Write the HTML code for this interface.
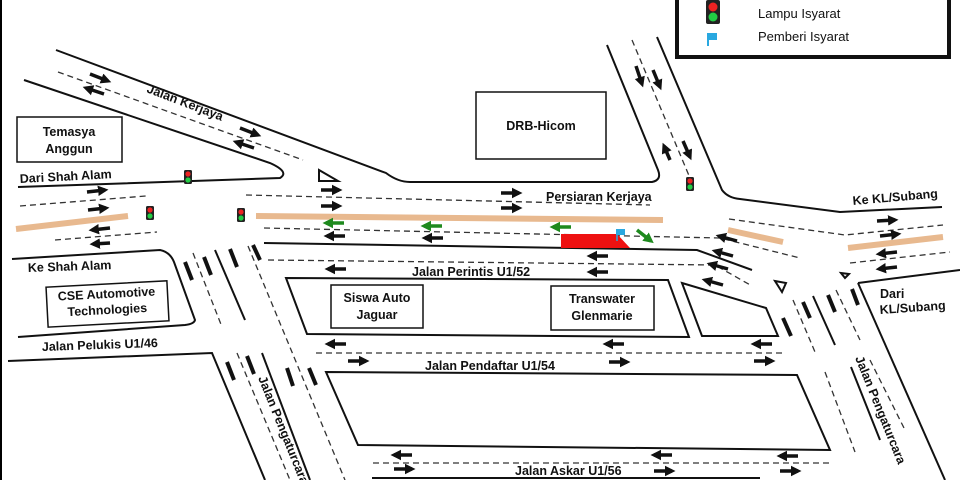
<!DOCTYPE html>
<html><head><meta charset="utf-8"><style>
html,body{margin:0;padding:0;background:#fff;}
svg{display:block;}
text{font-family:"Liberation Sans",sans-serif;font-weight:bold;font-size:12.5px;fill:#111;}
</style></head><body>
<svg width="960" height="480" viewBox="0 0 960 480" xmlns="http://www.w3.org/2000/svg">
<defs>
<marker id="ah" markerWidth="4" markerHeight="4" refX="2" refY="2" orient="auto" markerUnits="strokeWidth"><path d="M0,0.5 L3,2 L0,3.5Z" fill="#111"/></marker>
<marker id="gh" markerWidth="4" markerHeight="4" refX="2" refY="2" orient="auto" markerUnits="strokeWidth"><path d="M0,0.5 L3,2 L0,3.5Z" fill="#1e8a1e"/></marker>
</defs>
<rect x="0" y="0" width="2" height="480" fill="#000"/>
<g fill="none" stroke="#111" stroke-width="2">
<!-- Kerjaya upper + top road -->
<path d="M56,50 L386,173 Q398,182 410,182 L652,182 Q662,180 658,170 L607,45"/>
<path d="M657,37 L722,190 Q728,198 740,199 L840,212 L942,207"/>
<path d="M24,80 L270,163 Q290,172 280,178 L18,187"/>
<path d="M264,243 L697,250 L752,270"/>
<path d="M12,259 L160,250 Q170,252 174,262 L195,320 Q194,324 185,325 L18,337"/>
<path d="M8,361 L212,353 L265,480"/>
<path d="M215,250 L245,320"/>
<path d="M286,278 L668,280 L689,337 L307,334 Z"/>
<path d="M682,283 L766,308 L778,336 L702,336 Z"/>
<path d="M326,372 L797,375 L830,450 L358,445 Z"/>
<path d="M372,478 L760,478"/>
<path d="M858,283 L960,270"/>
<path d="M858,283 L945,480"/>
<path d="M813,296 L835,345"/>
<path d="M851,367 L880,440"/>
<path d="M262,353 L310,480"/>
</g>
<g fill="none" stroke="#333" stroke-width="1.3" stroke-dasharray="6,4">
<path d="M58,72 L303,160"/>
<path d="M632,40 L690,178"/>
<path d="M20,206 L146,196"/>
<path d="M55,240 L157,232"/>
<path d="M246,195 L650,205"/>
<path d="M264,228 L720,238 L800,258"/>
<path d="M268,260 L715,265 L752,286"/>
<path d="M729,219 L845,235 L943,225"/>
<path d="M850,263 L950,252"/>
<path d="M193,253 L222,327"/>
<path d="M248,246 L345,480"/>
<path d="M237,353 L290,480"/>
<path d="M316,353 L786,353"/>
<path d="M373,463 L830,463"/>
<path d="M793,300 L815,352"/>
<path d="M836,290 L860,340"/>
<path d="M825,372 L855,452"/>
<path d="M870,360 L905,430"/>
</g>
<!-- tan bars -->
<g stroke="#e8b98f" stroke-width="6">
<line x1="16" y1="229" x2="128" y2="216"/>
<line x1="256" y1="216" x2="663" y2="220"/>
<line x1="728" y1="230" x2="783" y2="242"/>
<line x1="848" y1="248" x2="943" y2="237"/>
</g>
<!-- red shape -->
<path d="M561,234 L617,234 L630,248 L561,248Z" fill="#ee1111"/>
<!-- flag -->
<rect x="616" y="229" width="9" height="6" fill="#29a8e0"/><line x1="617" y1="229" x2="617" y2="241" stroke="#29a8e0" stroke-width="1.5"/>
<!-- arrows -->
<g stroke="#111" stroke-width="3.5" marker-end="url(#ah)">
<line x1="90" y1="74" x2="108" y2="81"/>
<line x1="104" y1="94" x2="86" y2="88"/>
<line x1="240" y1="128" x2="258" y2="135"/>
<line x1="254" y1="148" x2="236" y2="142"/>
<line x1="87" y1="192" x2="105" y2="190"/>
<line x1="88" y1="210" x2="106" y2="208"/>
<line x1="110" y1="228" x2="92" y2="230"/>
<line x1="110" y1="243" x2="93" y2="244"/>
<line x1="321" y1="190" x2="339" y2="190"/>
<line x1="321" y1="206" x2="339" y2="206"/>
<line x1="345" y1="236" x2="327" y2="236"/>
<line x1="443" y1="238" x2="425" y2="238"/>
<line x1="501" y1="193" x2="519" y2="193"/>
<line x1="501" y1="208" x2="519" y2="208"/>
<line x1="608" y1="256" x2="590" y2="256"/>
<line x1="608" y1="272" x2="590" y2="272"/>
<line x1="346" y1="269" x2="328" y2="269"/>
<line x1="346" y1="344" x2="328" y2="344"/>
<line x1="348" y1="361" x2="366" y2="361"/>
<line x1="624" y1="344" x2="606" y2="344"/>
<line x1="609" y1="362" x2="627" y2="362"/>
<line x1="772" y1="344" x2="754" y2="344"/>
<line x1="754" y1="361" x2="772" y2="361"/>
<line x1="412" y1="455" x2="394" y2="455"/>
<line x1="394" y1="469" x2="412" y2="469"/>
<line x1="672" y1="455" x2="654" y2="455"/>
<line x1="654" y1="471" x2="672" y2="471"/>
<line x1="798" y1="456" x2="780" y2="456"/>
<line x1="780" y1="471" x2="798" y2="471"/>
<line x1="877" y1="221" x2="895" y2="220"/>
<line x1="880" y1="236" x2="898" y2="234"/>
<line x1="897" y1="252" x2="879" y2="254"/>
<line x1="897" y1="267" x2="879" y2="269"/>
<line x1="737" y1="241" x2="719" y2="236"/>
<line x1="733" y1="256" x2="715" y2="251"/>
<line x1="728" y1="269" x2="710" y2="264"/>
<line x1="723" y1="285" x2="705" y2="280"/>
<line x1="636" y1="66" x2="642" y2="84"/>
<line x1="653" y1="70" x2="660" y2="87"/>
<line x1="670" y1="160" x2="664" y2="146"/>
<line x1="683" y1="141" x2="690" y2="157"/>
</g>
<g stroke="#1e8a1e" stroke-width="3.5" marker-end="url(#gh)">
<line x1="344" y1="223" x2="326" y2="223"/>
<line x1="442" y1="226" x2="424" y2="226"/>
<line x1="571" y1="227" x2="553" y2="227"/>
<line x1="637" y1="230" x2="651" y2="241"/>
</g>
<!-- bars -->
<g stroke="#111" stroke-width="4">
<line x1="185" y1="262" x2="192" y2="280"/>
<line x1="204" y1="257" x2="211" y2="275"/>
<line x1="230" y1="249" x2="237" y2="267"/>
<line x1="253" y1="245" x2="260" y2="260"/>
<line x1="227" y1="362" x2="234" y2="380"/>
<line x1="247" y1="356" x2="254" y2="374"/>
<line x1="287" y1="368" x2="293" y2="386"/>
<line x1="309" y1="368" x2="316" y2="385"/>
<line x1="783" y1="318" x2="791" y2="336"/>
<line x1="803" y1="302" x2="810" y2="318"/>
<line x1="828" y1="295" x2="835" y2="312"/>
<line x1="852" y1="289" x2="858" y2="305"/>
</g>
<!-- triangles -->
<path d="M319,170 L338,181 L319,181Z" fill="#fff" stroke="#111" stroke-width="2"/>
<path d="M775,281 L786,283 L782,292Z" fill="#fff" stroke="#111" stroke-width="2"/>
<path d="M841,273 L849,274 L845,278Z" fill="#fff" stroke="#111" stroke-width="2"/>
<!-- traffic lights -->
<g>
<rect x="184" y="170" width="8" height="14" rx="1.5" fill="#222"/><circle cx="188" cy="174" r="2.6" fill="#e22"/><circle cx="188" cy="180" r="2.6" fill="#2c4"/>
<rect x="146" y="206" width="8" height="14" rx="1.5" fill="#222"/><circle cx="150" cy="210" r="2.6" fill="#e22"/><circle cx="150" cy="216" r="2.6" fill="#2c4"/>
<rect x="237" y="208" width="8" height="14" rx="1.5" fill="#222"/><circle cx="241" cy="212" r="2.6" fill="#e22"/><circle cx="241" cy="218" r="2.6" fill="#2c4"/>
<rect x="686" y="177" width="8" height="14" rx="1.5" fill="#222"/><circle cx="690" cy="181" r="2.6" fill="#e22"/><circle cx="690" cy="187" r="2.6" fill="#2c4"/>
</g>
<!-- boxes -->
<g fill="#fff" stroke="#111" stroke-width="1.5">
<rect x="17" y="117" width="105" height="45"/>
<rect x="476" y="92" width="130" height="67"/>
<rect x="331" y="285" width="92" height="43"/>
<rect x="551" y="286" width="103" height="44"/>
<rect x="47" y="284" width="121" height="40" transform="rotate(-3 107 304)"/>
</g>
<text x="69" y="136" text-anchor="middle">Temasya</text>
<text x="69" y="153" text-anchor="middle">Anggun</text>
<text x="541" y="130" text-anchor="middle">DRB-Hicom</text>
<text x="377" y="302" text-anchor="middle">Siswa Auto</text>
<text x="377" y="319" text-anchor="middle">Jaguar</text>
<text x="602" y="303" text-anchor="middle">Transwater</text>
<text x="602" y="320" text-anchor="middle">Glenmarie</text>
<g transform="rotate(-3 107 304)"><text x="107" y="298" text-anchor="middle">CSE Automotive</text><text x="107" y="314" text-anchor="middle">Technologies</text></g>
<text x="20" y="183" transform="rotate(-3 20 183)">Dari Shah Alam</text>
<text x="28" y="272" transform="rotate(-2 28 272)">Ke Shah Alam</text>
<text x="42" y="351" transform="rotate(-2 42 351)">Jalan Pelukis U1/46</text>
<text x="146" y="92" transform="rotate(21 146 92)">Jalan Kerjaya</text>
<text x="546" y="201">Persiaran Kerjaya</text>
<text x="412" y="276">Jalan Perintis U1/52</text>
<text x="425" y="370">Jalan Pendaftar U1/54</text>
<text x="515" y="475">Jalan Askar U1/56</text>
<text x="853" y="205" transform="rotate(-5 853 205)">Ke KL/Subang</text>
<text x="880" y="298">Dari</text>
<text x="880" y="314" transform="rotate(-4 880 314)">KL/Subang</text>
<text x="258" y="378" transform="rotate(68 258 378)">Jalan Pengaturcara</text>
<text x="855" y="358" transform="rotate(68 855 358)">Jalan Pengaturcara</text>
<!-- legend -->
<rect x="677" y="-5" width="272" height="62" fill="#fff" stroke="#111" stroke-width="4"/>
<rect x="706" y="0" width="14" height="24" rx="2" fill="#222"/><circle cx="713" cy="7" r="4.5" fill="#e22"/><circle cx="713" cy="17" r="4.5" fill="#2c4"/>
<rect x="707" y="33" width="10" height="7" fill="#29a8e0"/><line x1="708" y1="33" x2="708" y2="46" stroke="#29a8e0" stroke-width="2"/>
<text x="758" y="18" style="font-weight:normal;font-size:13px">Lampu Isyarat</text>
<text x="758" y="41" style="font-weight:normal;font-size:13px">Pemberi Isyarat</text>
</svg>
</body></html>
